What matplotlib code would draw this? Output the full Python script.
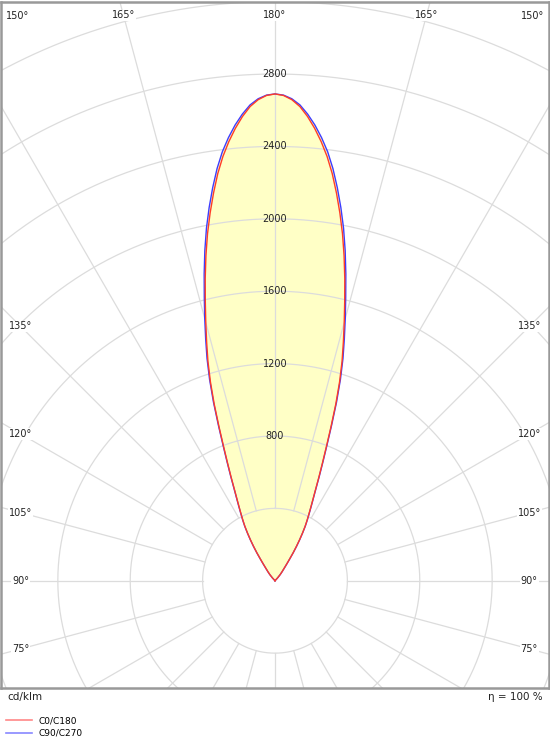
import matplotlib
matplotlib.use('Agg')
import matplotlib.pyplot as plt
from matplotlib.lines import Line2D
import numpy as np

# gamma angle measured from the 180° axis (degrees) and intensity (cd/klm)
gamma = [0, 1, 2, 3, 4, 5, 6, 7, 8, 9, 10, 11, 12, 13, 14, 15, 16, 17, 18, 19, 20,
         21, 22, 23, 24, 25, 26, 27, 28, 29, 30, 31, 32, 33, 34, 35, 36, 38, 40, 42, 44]
c90_c270 = [2690, 2684, 2665, 2633, 2585, 2528, 2462, 2388, 2300, 2200, 2095,
            1985, 1865, 1740, 1615, 1500, 1390, 1285, 1170, 1045, 915,
            800, 705, 625, 555, 500, 455, 415, 380, 345, 305,
            265, 225, 185, 145, 115, 92, 65, 45, 22, 0]
c0_c180 = [2690, 2682, 2660, 2624, 2572, 2510, 2440, 2362, 2272, 2170, 2064,
           1954, 1836, 1714, 1592, 1478, 1370, 1267, 1154, 1031, 903,
           790, 697, 619, 550, 496, 451, 412, 377, 343, 303,
           263, 223, 184, 144, 114, 91, 64, 44, 21, 0]

ring_values = [800, 1200, 1600, 2000, 2400, 2800]
top_labels = [165, 180]
side_labels = [135, 120, 105, 90, 75]
eta = 100

plt.rcParams['font.family'] = ['DejaVu Sans']

fig = plt.figure(figsize=(5.5, 7.5), dpi=100)
ax = fig.add_axes([0.0015, 0.0827, 0.997, 0.9157])
ax.set_xlim(-1515, 1515)
ax.set_ylim(-590, 3200)
ax.set_aspect('equal')
ax.set_xticks([])
ax.set_yticks([])
for s in ax.spines.values():
    s.set_color('#999999')
    s.set_linewidth(1.8)

grid_c = '#dcdcdc'


def polar_xy(g, r):
    g = np.radians(np.asarray(g, dtype=float))
    r = np.asarray(r, dtype=float)
    return r * np.sin(g), r * np.cos(g)


# rings
t = np.linspace(0, 360, 721)
for r in range(400, 4400, 400):
    x, y = polar_xy(t, np.full_like(t, r))
    ax.plot(x, y, color=grid_c, lw=0.9, zorder=2)

# radial lines every 15 deg, starting at the inner ring
for a in range(0, 360, 15):
    x, y = polar_xy([a, a], [400, 5000])
    ax.plot(x, y, color=grid_c, lw=0.9, zorder=2)


def full_curve(vals):
    g = np.concatenate([-np.array(gamma[::-1]), np.array(gamma[1:])])
    v = np.concatenate([np.array(vals[::-1]), np.array(vals[1:])])
    return polar_xy(g, v)


bx, by = full_curve(c90_c270)
rx, ry = full_curve(c0_c180)
ax.fill(bx, by, color='#ffffc6', zorder=1, lw=0)
ax.plot(rx, ry, color='#ff3c28', lw=1.0, zorder=4)
ax.plot(bx, by, color='#3c3cff', lw=1.0, zorder=3.5)

# ring values
for v in ring_values:
    ax.text(0, v, str(v), ha='center', va='center', fontsize=7, color='#222222', zorder=5)

# angle labels
box = dict(facecolor='white', edgecolor='none', pad=0.6)
ytop = 3124
for a in top_labels:
    xx = ytop * np.tan(np.radians(180 - a))
    for sgn in ([1] if a == 180 else [-1, 1]):
        ax.text(sgn * xx, ytop, '%d°' % a, ha='center', va='center', fontsize=7,
                color='#222222', zorder=5, bbox=box)
ax.text(5 / 550, 1 - 14 / 688, '150°', transform=ax.transAxes, ha='left', va='center',
        fontsize=7, color='#222222', zorder=5, bbox=box)
ax.text(1 - 5 / 550, 1 - 14 / 688, '150°', transform=ax.transAxes, ha='right', va='center',
        fontsize=7, color='#222222', zorder=5, bbox=box)

xside = 1405
for a in side_labels:
    phi = np.radians(180 - a)
    yy = xside * np.cos(phi) / np.sin(phi)
    for sgn in [-1, 1]:
        ax.text(sgn * xside, yy, '%d°' % a, ha='center', va='center', fontsize=7,
                color='#222222', zorder=5, bbox=box)

# captions under the frame
fig.text(7 / 550, 1 - 697 / 750, 'cd/klm', ha='left', va='center', fontsize=7.5, color='#222222')
fig.text(543 / 550, 1 - 697 / 750, 'η = %d %%' % eta, ha='right', va='center', fontsize=7.5,
         color='#222222')

handles = [Line2D([], [], color='#ff8888', lw=1.2), Line2D([], [], color='#8888ff', lw=1.2)]
fig.legend(handles, ['C0/C180', 'C90/C270'], loc='upper left',
           bbox_to_anchor=(0.005, 1 - 713 / 750), frameon=False, fontsize=6.5,
           handlelength=2.8, handletextpad=0.8, labelspacing=0.35, borderpad=0.2,
           borderaxespad=0.2)

fig.savefig('out.png', dpi=100, facecolor='white')
